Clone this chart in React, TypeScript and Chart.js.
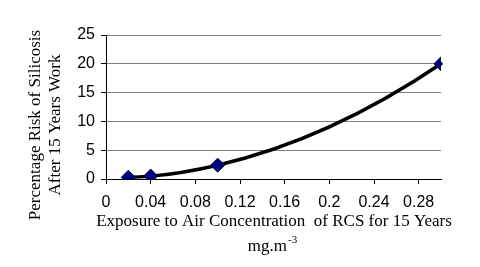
import { useEffect, useRef } from "react";
import { Chart, registerables } from "chart.js";

Chart.register(...registerables);

const exposure = [0.02, 0.04, 0.1, 0.3];
const risk = [0.3, 0.5, 2.4, 20];
const xTickValues = [0, 0.04, 0.08, 0.12, 0.16, 0.2, 0.24, 0.28];
const yTickValues = [0, 5, 10, 15, 20, 25];
const yTitleLines = ["Percentage Risk of Silicosis", "After 15 Years Work"];
const xTitleLine1 = "Exposure to Air Concentration  of RCS for 15 Years";
const xTitleUnit = "mg.m";
const xTitleSup = "-3";

// slope estimate at point i from the neighbouring data points (parabola through 3 points)
function slopeAt(xs: number[], ys: number[], i: number): number {
  const n = xs.length;
  let a = i - 1;
  if (i === 0) a = 0;
  if (i === n - 1) a = n - 3;
  const x0 = xs[a], x1 = xs[a + 1], x2 = xs[a + 2];
  const y0 = ys[a], y1 = ys[a + 1], y2 = ys[a + 2];
  const d01 = (y1 - y0) / (x1 - x0);
  const d12 = (y2 - y1) / (x2 - x1);
  const d012 = (d12 - d01) / (x2 - x0);
  const x = xs[i];
  return d01 + d012 * ((x - x0) + (x - x1));
}

export default function App() {
  const ref = useRef<HTMLCanvasElement | null>(null);

  useEffect(() => {
    document.body.style.margin = "0";
    const canvas = ref.current!;
    const curve = {
      id: "curve",
      beforeDatasetsDraw(chart: any) {
        const ctx = chart.ctx;
        const xs = chart.scales.x;
        const ys = chart.scales.y;
        ctx.save();
        ctx.strokeStyle = "#000";
        ctx.lineWidth = 3.5;
        ctx.lineJoin = "round";
        ctx.lineCap = "round";
        ctx.beginPath();
        ctx.moveTo(xs.getPixelForValue(exposure[0]), ys.getPixelForValue(risk[0]));
        for (let i = 0; i < exposure.length - 1; i++) {
          const h = exposure[i + 1] - exposure[i];
          const m1 = slopeAt(exposure, risk, i);
          const m2 = slopeAt(exposure, risk, i + 1);
          const c1x = exposure[i] + h / 3, c1y = risk[i] + (m1 * h) / 3;
          const c2x = exposure[i + 1] - h / 3, c2y = risk[i + 1] - (m2 * h) / 3;
          ctx.bezierCurveTo(
            xs.getPixelForValue(c1x), ys.getPixelForValue(c1y),
            xs.getPixelForValue(c2x), ys.getPixelForValue(c2y),
            xs.getPixelForValue(exposure[i + 1]), ys.getPixelForValue(risk[i + 1])
          );
        }
        ctx.stroke();
        ctx.restore();
      },
    };
    const titles = {
      id: "titles",
      afterDraw(chart: any) {
        const ctx = chart.ctx;
        ctx.save();
        ctx.fillStyle = "#000";
        ctx.font = "17px 'Liberation Serif'";
        ctx.textAlign = "center";
        ctx.textBaseline = "middle";
        ctx.save();
        ctx.translate(36, 125);
        ctx.rotate(-Math.PI / 2);
        ctx.fillText(yTitleLines[0], 0, 0);
        ctx.fillText(yTitleLines[1], 0, 20);
        ctx.restore();
        ctx.fillText(xTitleLine1, 274, 222);
        const w1 = ctx.measureText(xTitleUnit).width;
        ctx.font = "11px 'Liberation Serif'";
        const w2 = ctx.measureText(xTitleSup).width;
        const startX = 272 - (w1 + w2) / 2;
        ctx.textAlign = "left";
        ctx.font = "17px 'Liberation Serif'";
        ctx.fillText(xTitleUnit, startX, 247);
        ctx.font = "11px 'Liberation Serif'";
        ctx.fillText(xTitleSup, startX + w1 + 1, 240);
        ctx.restore();
      },
    };
    const chart = new Chart(canvas, {
      type: "line",
      data: {
        datasets: [
          {
            data: exposure.map((x, i) => ({ x, y: risk[i] })),
            showLine: false,
            borderColor: "#000",
            pointStyle: "rectRot",
            pointRadius: 7,
            pointBackgroundColor: "#000080",
            pointBorderColor: "#000033",
            pointBorderWidth: 1,
            fill: false,
          },
        ],
      },
      options: {
        animation: false,
        responsive: false,
        maintainAspectRatio: false,
        layout: { padding: { left: 0, right: 39, top: 35, bottom: 0 } },
        plugins: { legend: { display: false }, tooltip: { enabled: false }, title: { display: false } },
        scales: {
          x: {
            type: "linear",
            min: 0,
            max: 0.3,
            afterBuildTicks: (s: any) => {
              s.ticks = xTickValues.map((v) => ({ value: v }));
            },
            afterFit: (s: any) => {
              s.height = 88;
            },
            ticks: {
              color: "#000",
              font: { family: "'Liberation Sans'", size: 16 },
              padding: 9,
              maxRotation: 0,
              autoSkip: false,
              callback: (v: any) => String(Math.round(Number(v) * 100) / 100),
            },
            grid: { drawOnChartArea: false, drawTicks: true, tickLength: 5, tickColor: "#000" },
            border: { display: true, color: "#000", width: 1 },
          },
          y: {
            min: 0,
            max: 25,
            afterBuildTicks: (s: any) => {
              s.ticks = yTickValues.map((v) => ({ value: v }));
            },
            afterFit: (s: any) => {
              s.width = 106;
            },
            ticks: {
              color: "#000",
              font: { family: "'Liberation Sans'", size: 16 },
              padding: 6,
            },
            grid: { color: "#808080", tickLength: 5, tickColor: "#000" },
            border: { display: true, color: "#000", width: 1 },
          },
        },
      },
      plugins: [curve, titles],
    } as any);
    return () => chart.destroy();
  }, []);

  return <canvas ref={ref} width={480} height={267} style={{ display: "block" }} />;
}
